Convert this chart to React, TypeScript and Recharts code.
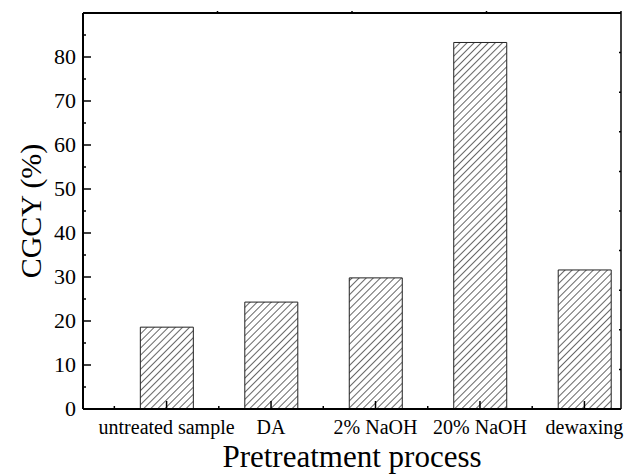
import React from 'react';
import { BarChart, Bar, XAxis, YAxis } from 'recharts';

const categories = ['untreated sample', 'DA', '2% NaOH', '20% NaOH', 'dewaxing'];
const positions = [1, 2, 3, 4, 5];
const cgcy = [18.6, 24.3, 29.8, 83.3, 31.6];

const xTicks = [0.5, 1, 1.5, 2, 2.5, 3, 3.5, 4, 4.5, 5];
const yTicks = [0, 5, 10, 15, 20, 25, 30, 35, 40, 45, 50, 55, 60, 65, 70, 75, 80, 85];
const yLabels = [0, 10, 20, 30, 40, 50, 60, 70, 80];
const frameTicks = [1, 2, 3, 4, 5, 6, 7, 8, 9];

const data = positions.map((p, i) => ({ pos: p, name: categories[i], value: cgcy[i] }));

const FONT = '"Liberation Serif", "Times New Roman", serif';
const textStyle = { fontFamily: FONT, fill: '#000', fontWeight: 400 };

const BottomTick = (props: any) => {
  const { x, y, payload } = props;
  const v = payload.value;
  const isMajor = Number.isInteger(v);
  return (
    <g>
      <line x1={x} y1={y} x2={x} y2={y - (isMajor ? 8 : 3)} stroke="#000" strokeWidth={1.5} />
      {isMajor && (
        <text x={x} y={y + 25} textAnchor="middle" style={{ ...textStyle, fontSize: 20 }}>
          {categories[v - 1]}
        </text>
      )}
    </g>
  );
};

const LeftTick = (props: any) => {
  const { x, y, payload } = props;
  const v = payload.value;
  const isMajor = yLabels.includes(v);
  return (
    <g>
      <line x1={x} y1={y} x2={x + (isMajor ? 8 : 3)} y2={y} stroke="#000" strokeWidth={1.5} />
      {isMajor && (
        <text x={x - 7} y={y + 7} textAnchor="end" style={{ ...textStyle, fontSize: 22 }}>
          {v}
        </text>
      )}
    </g>
  );
};

const TopTick = (props: any) => {
  const { x, y } = props;
  return <line x1={x} y1={y} x2={x} y2={y - 2} stroke="#000" strokeWidth={1.5} />;
};

const RightTick = (props: any) => {
  const { x, y } = props;
  return <line x1={x} y1={y} x2={x - 2} y2={y} stroke="#000" strokeWidth={1.5} />;
};

export default function App() {
  return (
    <div style={{ position: 'absolute', left: 0, top: 0, background: '#fff' }}>
      <BarChart width={628} height={476} data={data} margin={{ top: 0, right: 0, bottom: 0, left: 0 }}>
        <defs>
          <pattern id="hatch" width="5" height="5" patternUnits="userSpaceOnUse" patternTransform="rotate(45)">
            <line x1="0" y1="0" x2="0" y2="5" stroke="#000" strokeWidth={1.2} />
          </pattern>
        </defs>
        <XAxis
          xAxisId="bottom"
          dataKey="pos"
          type="number"
          domain={[0.2, 5.35]}
          allowDataOverflow
          ticks={xTicks}
          interval={0}
          height={67}
          tickSize={0}
          tickMargin={0}
          tickLine={false}
          tick={BottomTick}
          axisLine={{ stroke: '#000', strokeWidth: 2 }}
          label={{
            value: 'Pretreatment process',
            position: 'insideBottom',
            offset: 9,
            fontSize: 31,
            fontFamily: FONT,
            fill: '#000',
          }}
        />
        <XAxis
          xAxisId="top"
          orientation="top"
          type="number"
          domain={[0, 10]}
          allowDataOverflow
          ticks={frameTicks}
          interval={0}
          height={13}
          tickSize={0}
          tickMargin={0}
          tickLine={false}
          tick={TopTick}
          axisLine={{ stroke: '#000', strokeWidth: 2 }}
        />
        <YAxis
          yAxisId="left"
          type="number"
          domain={[0, 90]}
          allowDataOverflow
          ticks={yTicks}
          interval={0}
          width={83}
          tickSize={0}
          tickMargin={0}
          tickLine={false}
          tick={LeftTick}
          axisLine={{ stroke: '#000', strokeWidth: 2 }}
          label={{
            value: 'CGCY (%)',
            angle: -90,
            position: 'insideLeft',
            offset: 30,
            fontSize: 30,
            fontFamily: FONT,
            fill: '#000',
            style: { textAnchor: 'middle' },
          }}
        />
        <YAxis
          yAxisId="right"
          orientation="right"
          type="number"
          domain={[0, 10]}
          allowDataOverflow
          ticks={frameTicks}
          interval={0}
          width={7}
          tickSize={0}
          tickMargin={0}
          tickLine={false}
          tick={RightTick}
          axisLine={{ stroke: '#000', strokeWidth: 1.5 }}
        />
        <Bar
          xAxisId="bottom"
          yAxisId="left"
          dataKey="value"
          barSize={53}
          fill="url(#hatch)"
          stroke="#222"
          strokeWidth={1}
          isAnimationActive={false}
        />
      </BarChart>
    </div>
  );
}
